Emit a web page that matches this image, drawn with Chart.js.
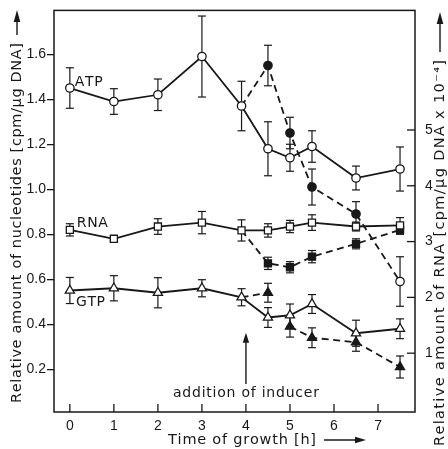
<!DOCTYPE html>
<html><head><meta charset="utf-8">
<script src="https://cdn.jsdelivr.net/npm/chart.js@4.4.0/dist/chart.umd.min.js"></script>
<style>html,body{margin:0;padding:0;background:#fff;}#wrap{width:448px;height:449px;position:relative;}</style>
</head><body><div id="wrap"><canvas id="c" width="448" height="449"></canvas></div>
<script>
// ---- data ----
const timeOpen = [0, 1, 2, 3, 3.9, 4.5, 5, 5.5, 6.5, 7.5];
const atpOpen = [1.45, 1.39, 1.42, 1.59, 1.37, 1.18, 1.14, 1.19, 1.05, 1.09];
const atpOpenErr = [0.09, 0.057, 0.07, 0.18, 0.11, 0.12, 0.06, 0.07, 0.053, 0.098];
const rnaOpen = [3.21, 3.05, 3.27, 3.34, 3.20, 3.20, 3.27, 3.34, 3.27, 3.29];
const rnaOpenErr = [0.11, 0.02, 0.14, 0.2, 0.19, 0.12, 0.11, 0.14, 0.08, 0.14];
const gtpOpen = [0.55, 0.56, 0.54, 0.56, 0.52, 0.43, 0.44, 0.49, 0.36, 0.38];
const gtpOpenErr = [0.058, 0.056, 0.067, 0.038, 0.038, 0.044, 0.05, 0.042, 0.058, 0.044];

const timeInd = [3.9, 4.5, 5, 5.5, 6.5, 7.5];
const atpInd = [1.37, 1.55, 1.25, 1.01, 0.89, 0.59];
const atpIndErr = [0, 0.09, 0.07, 0.08, 0.055, 0.11];
const rnaInd = [3.20, 2.61, 2.54, 2.73, 2.96, 3.21];
const rnaIndErr = [0, 0.11, 0.1, 0.11, 0.09, 0.08];
const timeGtpIndA = [3.9, 4.5];
const gtpIndA = [0.52, 0.54];
const gtpIndAErr = [0, 0.042];
const timeGtpIndB = [5, 5.5, 6.5, 7.5];
const gtpIndB = [0.39, 0.34, 0.32, 0.21];
const gtpIndBErr = [0.047, 0.044, 0.04, 0.049];

const xTicks = [0, 1, 2, 3, 4, 5, 6, 7];
const yTicks = [0.2, 0.4, 0.6, 0.8, 1.0, 1.2, 1.4, 1.6];
const y2Ticks = [1, 2, 3, 4, 5];
const inducerTime = 4;

const INK = '#181818';
const FONT = '"Liberation Sans", Arial, sans-serif';
const TFONT = '"DejaVu Sans", "Liberation Sans", sans-serif';
Chart.defaults.font.family = FONT;
Chart.defaults.color = INK;

function pts(xs, ys) { return xs.map((x, i) => ({x: x, y: ys[i]})); }

function series(xs, ys, errs, opts) {
  return Object.assign({
    data: pts(xs, ys), err: errs, borderColor: INK, backgroundColor: '#fff',
    pointBorderColor: INK, borderWidth: 1.8, pointBorderWidth: 1.3,
    tension: 0, yAxisID: 'y', spanGaps: false
  }, opts);
}
function firstHidden(n, r) { return Array.from({length: n}, (_, i) => i === 0 ? 0 : r); }

const datasets = [
  series(timeOpen, atpOpen, atpOpenErr, {pointStyle: 'circle', pointRadius: 4.2, pointBackgroundColor: '#fff'}),
  series(timeOpen, rnaOpen, rnaOpenErr, {pointStyle: 'rect', pointRadius: 5, pointBackgroundColor: '#fff', yAxisID: 'y2'}),
  series(timeOpen, gtpOpen, gtpOpenErr, {pointStyle: 'triangle', pointRadius: 5.3, pointBackgroundColor: '#fff'}),
  series(timeInd, atpInd, atpIndErr, {pointStyle: 'circle', borderDash: [7, 4.5],
    pointRadius: firstHidden(timeInd.length, 4.2),
    pointBackgroundColor: timeInd.map((_, i) => i === timeInd.length - 1 ? '#fff' : INK)}),
  series(timeInd, rnaInd, rnaIndErr, {pointStyle: 'rect', borderDash: [7, 4.5], yAxisID: 'y2',
    pointRadius: firstHidden(timeInd.length, 5), pointBackgroundColor: INK}),
  series(timeGtpIndA, gtpIndA, gtpIndAErr, {pointStyle: 'triangle', borderDash: [7, 4.5],
    pointRadius: firstHidden(timeGtpIndA.length, 5.3), pointBackgroundColor: INK}),
  series(timeGtpIndB, gtpIndB, gtpIndBErr, {pointStyle: 'triangle', borderDash: [7, 4.5],
    pointRadius: 5.3, pointBackgroundColor: INK})
];

function line(ctx, x1, y1, x2, y2) { ctx.beginPath(); ctx.moveTo(x1, y1); ctx.lineTo(x2, y2); ctx.stroke(); }
function arrowHead(ctx, x, y, dir, len, half) {
  ctx.beginPath();
  if (dir === 'up') { ctx.moveTo(x, y); ctx.lineTo(x - half, y + len); ctx.lineTo(x + half, y + len); }
  else { ctx.moveTo(x, y); ctx.lineTo(x - len, y - half); ctx.lineTo(x - len, y + half); }
  ctx.closePath(); ctx.fill();
}
// draw text left-aligned starting at x, spread evenly to a target width
function spacedText(ctx, text, x, y, target) {
  const chars = Array.from(text);
  const widths = chars.map(c => ctx.measureText(c).width);
  const total = widths.reduce((s, w) => s + w, 0);
  const gap = chars.length > 1 ? (target - total) / (chars.length - 1) : 0;
  const prevAlign = ctx.textAlign;
  ctx.textAlign = 'left';
  let cx = x;
  chars.forEach((c, i) => { ctx.fillText(c, cx, y); cx += widths[i] + gap; });
  ctx.textAlign = prevAlign;
  return target;
}

const decor = {
  id: 'decor',
  beforeDatasetsDraw(chart) {
    const {ctx, chartArea: a, scales} = chart;
    ctx.save();
    ctx.strokeStyle = INK;
    ctx.lineWidth = 1.5;
    ctx.strokeRect(a.left, a.top, a.right - a.left, a.bottom - a.top);
    ctx.lineWidth = 1.3;
    xTicks.forEach(v => { const px = scales.x.getPixelForValue(v); line(ctx, px, a.bottom, px, a.bottom - 8); });
    y2Ticks.forEach(v => { const py = scales.y2.getPixelForValue(v); line(ctx, a.right, py, a.right - 8, py); });
    ctx.lineWidth = 1.2;
    chart.data.datasets.forEach(ds => {
      if (!ds.err) return;
      const ys = scales[ds.yAxisID || 'y'];
      ds.data.forEach((p, j) => {
        const e = ds.err[j];
        if (!e || p.y == null) return;
        const px = scales.x.getPixelForValue(p.x);
        const t = ys.getPixelForValue(p.y + e), b = ys.getPixelForValue(p.y - e);
        line(ctx, px, t, px, b); line(ctx, px - 4, t, px + 4, t); line(ctx, px - 4, b, px + 4, b);
      });
    });
    ctx.restore();
  },
  afterDraw(chart) {
    const {ctx, scales} = chart;
    const X = v => scales.x.getPixelForValue(v), Y = v => scales.y.getPixelForValue(v);
    ctx.save();
    ctx.fillStyle = INK; ctx.strokeStyle = INK;
    ctx.textBaseline = 'middle'; ctx.textAlign = 'center';
    ctx.font = '14px ' + TFONT;
    spacedText(ctx, 'ATP', X(0.43) - 14, Y(1.475), 28);
    spacedText(ctx, 'RNA', X(0.51) - 15.5, Y(0.85), 31);
    spacedText(ctx, 'GTP', X(0.47) - 14.5, Y(0.496), 29);
    spacedText(ctx, 'addition of inducer', X(inducerTime) - 73, Y(0.093), 146);
    // inducer arrow
    ctx.lineWidth = 1.4;
    const ax = X(inducerTime), ayTop = Y(0.362), ayBot = Y(0.135);
    line(ctx, ax, ayBot, ax, ayTop + 8);
    arrowHead(ctx, ax, ayTop, 'up', 10, 3.2);

    // bottom title
    ctx.font = '14.5px ' + TFONT;
    spacedText(ctx, 'Time of growth [h]', 168, 440, 148);
    line(ctx, 324, 440, 362, 440);
    arrowHead(ctx, 366, 440, 'right', 11, 3.2);

    // left title
    ctx.save();
    ctx.translate(17, 403); ctx.rotate(-Math.PI / 2);
    ctx.font = '14.5px ' + TFONT;
    spacedText(ctx, 'Relative amount of nucleotides [cpm/\u03bcg DNA]', 0, 0, 360);
    line(ctx, 368, 0, 389, 0);
    arrowHead(ctx, 393, 0, 'right', 12, 3.3);
    ctx.restore();

    // right title
    ctx.save();
    ctx.translate(440, 446); ctx.rotate(-Math.PI / 2);
    ctx.font = '14.5px ' + TFONT;
    spacedText(ctx, 'Relative amount of RNA [cpm/\u03bcg DNA x 10\u207b\u2074]', 0, 0, 386);
    line(ctx, 394, 0, 430, 0);
    arrowHead(ctx, 434, 0, 'right', 12, 3.3);
    ctx.restore();
    ctx.restore();
  }
};

new Chart(document.getElementById('c'), {
  type: 'line',
  data: {datasets: datasets},
  plugins: [decor],
  options: {
    responsive: false, animation: false, devicePixelRatio: 1,
    layout: {padding: {top: 9, left: 0, right: 0, bottom: 0}},
    plugins: {legend: {display: false}, tooltip: {enabled: false}},
    scales: {
      x: {
        type: 'linear', min: -0.36, max: 7.84,
        afterBuildTicks: s => { s.ticks = xTicks.map(v => ({value: v})); },
        afterFit: s => { s.height = 37; },
        grid: {display: true, drawOnChartArea: false, color: 'rgba(0,0,0,0)', tickLength: 4},
        border: {display: false},
        ticks: {font: {size: 14}, padding: 2, maxRotation: 0, callback: v => String(v)}
      },
      y: {
        type: 'linear', position: 'left', min: 0.01, max: 1.795,
        afterBuildTicks: s => { s.ticks = yTicks.map(v => ({value: v})); },
        afterFit: s => { s.width = 54; },
        grid: {display: true, drawOnChartArea: false, color: INK, lineWidth: 1.3, tickLength: 7},
        border: {display: false},
        ticks: {font: {size: 14}, padding: 1, callback: v => v.toFixed(1)}
      },
      y2: {
        type: 'linear', position: 'right', min: -0.054, max: 7.143,
        afterBuildTicks: s => { s.ticks = y2Ticks.map(v => ({value: v})); },
        afterFit: s => { s.width = 33; },
        grid: {display: true, drawOnChartArea: false, color: 'rgba(0,0,0,0)', tickLength: 8},
        border: {display: false},
        ticks: {font: {size: 14}, padding: 2, callback: v => String(v)}
      }
    }
  }
});
</script></body></html>
